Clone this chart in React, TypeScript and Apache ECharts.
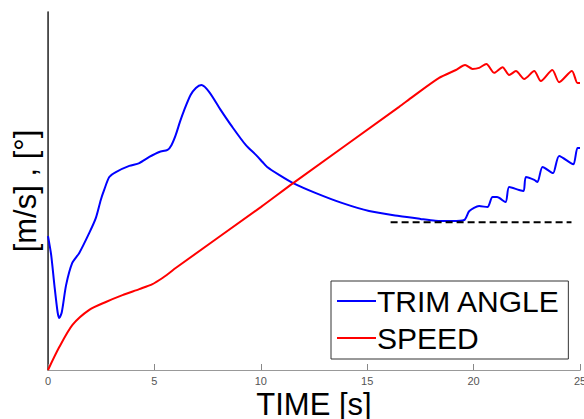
import React, { useEffect, useRef } from "react";
import * as echarts from "echarts";

// time [s]
const xTicks = [0, 5, 10, 15, 20, 25];

// TRIM ANGLE (blue) : [time, value]
const trimTime = [0, 0.15, 0.3, 0.45, 0.53, 0.65, 0.85, 1.14, 1.47, 1.94, 2.25, 2.48, 2.64, 2.88, 3.19, 3.82, 4.29, 4.76, 5.23, 5.62, 5.8, 6.0, 6.2, 6.4, 6.7, 6.95, 7.21, 7.57, 8.12, 8.66, 9.3, 9.77, 10.08, 10.3, 10.86, 11.52, 12.59, 13.84, 15.09, 16.5, 17.5, 18.2, 19.0, 19.56, 19.8, 20.26, 20.65, 20.89, 21.1, 21.5, 21.67, 22.14, 22.35, 22.46, 22.85, 23.0, 23.24, 23.63, 23.74, 24.02, 24.57, 24.7, 24.88, 25.0];
const trimValue = [37.4, 32.1, 23.7, 16.2, 14.5, 16.2, 23.7, 29.9, 32.7, 38.3, 42.5, 47.5, 50.3, 53.9, 55.3, 57.0, 57.8, 59.5, 60.9, 61.5, 62.8, 65.6, 69.3, 72.6, 76.8, 78.8, 79.6, 77.7, 72.6, 67.9, 62.8, 60.1, 58.1, 56.7, 54.5, 52.2, 49.4, 46.6, 44.4, 43.0, 42.2, 41.7, 41.6, 41.9, 44.4, 45.8, 45.5, 48.3, 48.3, 46.9, 51.1, 50.3, 50.0, 53.9, 53.1, 52.5, 56.7, 55.3, 55.0, 59.8, 57.8, 57.5, 62.0, 62.0];

// SPEED (red) : [time, value]
const speedTime = [0, 0.53, 1.15, 1.94, 2.72, 3.5, 4.29, 4.91, 5.38, 5.7, 6.0, 10.0, 11.52, 16.5, 17.13, 18.38, 19.17, 19.6, 19.95, 20.26, 20.6, 20.97, 21.36, 21.67, 21.99, 22.38, 22.85, 23.16, 23.7, 24.02, 24.62, 24.88, 25.0];
const speedValue = [0, 6.4, 12.6, 16.8, 19.0, 20.9, 22.6, 24.0, 25.7, 27.1, 28.5, 45.5, 52.2, 73.5, 76.3, 81.6, 83.8, 85.2, 84.1, 84.4, 85.5, 83.0, 84.6, 82.4, 83.5, 81.3, 83.5, 80.7, 83.8, 80.4, 83.5, 80.2, 80.2];

// reference level (dashed)
const refTime = [16.1, 24.6];
const refValue = [41.3, 41.3];

const FONT = "Liberation Sans, Arial, sans-serif";

export default function App() {
  const ref = useRef<HTMLDivElement>(null);
  useEffect(() => {
    document.body.style.margin = "0";
    const chart = echarts.init(ref.current!, null, { renderer: "svg" });
    const zip = (a: number[], b: number[]) => a.map((v, i) => [v, b[i]]);
    chart.setOption({
      animation: false,
      backgroundColor: "#ffffff",
      grid: { left: 48, right: 4, top: 12, bottom: 49, outerBoundsMode: "none", containLabel: false },
      legend: {
        data: ["TRIM ANGLE", "SPEED"],
        orient: "vertical",
        left: 331,
        top: 281,
        icon: "rect",
        itemWidth: 39,
        itemHeight: 2,
        itemGap: 7,
        padding: [5, 8, 6, 6],
        borderColor: "#333",
        borderWidth: 1,
        backgroundColor: "#fff",
        textStyle: { fontSize: 30, color: "#000", fontFamily: FONT, padding: [0, 0, 0, -4] },
      },
      xAxis: [
        {
          type: "value",
          min: 0,
          max: 25,
          interval: 5,
          position: "bottom",
          axisLine: { lineStyle: { color: "#888", width: 1 } },
          axisTick: { inside: true, length: 6, lineStyle: { color: "#888" } },
          axisLabel: { fontSize: 11, color: "#555", margin: 5, fontFamily: FONT, showMaxLabel: true, customValues: xTicks },
          splitLine: { show: false },
          name: "TIME [s]",
          nameLocation: "middle",
          nameGap: 19,
          nameMoveOverlap: false,
          nameTextStyle: { fontSize: 31, color: "#000", fontFamily: FONT },
        },
        {
          type: "value",
          min: 0,
          max: 25,
          position: "top",
          axisLine: { lineStyle: { color: "#999", width: 1 } },
          axisTick: { show: false },
          axisLabel: { show: false },
          splitLine: { show: false },
        },
      ],
      yAxis: [
        {
          type: "value",
          min: 0,
          max: 100,
          position: "left",
          axisLine: { show: true, lineStyle: { color: "#888", width: 1 } },
          axisTick: { show: false },
          axisLabel: { show: false },
          splitLine: { show: false },
          name: "[m/s] , [°]",
          nameLocation: "middle",
          nameGap: 7,
          nameMoveOverlap: false,
          nameTextStyle: { fontSize: 31, color: "#000", fontFamily: FONT },
        },
        {
          type: "value",
          min: 0,
          max: 100,
          position: "right",
          axisLine: { show: true, lineStyle: { color: "#333", width: 1.5 } },
          axisTick: { show: false },
          axisLabel: { show: false },
          splitLine: { show: false },
        },
      ],
      series: [
        {
          name: "TRIM ANGLE",
          type: "line",
          data: zip(trimTime, trimValue),
          symbol: "none",
          smooth: 0.25,
          lineStyle: { color: "#0000ff", width: 2 },
          itemStyle: { color: "#0000ff" },
        },
        {
          name: "SPEED",
          type: "line",
          data: zip(speedTime, speedValue),
          symbol: "none",
          smooth: 0.25,
          lineStyle: { color: "#ff0000", width: 2 },
          itemStyle: { color: "#ff0000" },
        },
        {
          name: "ref",
          type: "line",
          data: zip(refTime, refValue),
          symbol: "none",
          lineStyle: { color: "#000", width: 2, type: [7, 4] },
          itemStyle: { color: "#000" },
        },
      ],
    });
    return () => chart.dispose();
  }, []);
  return <div ref={ref} style={{ width: 584, height: 419 }} />;
}
